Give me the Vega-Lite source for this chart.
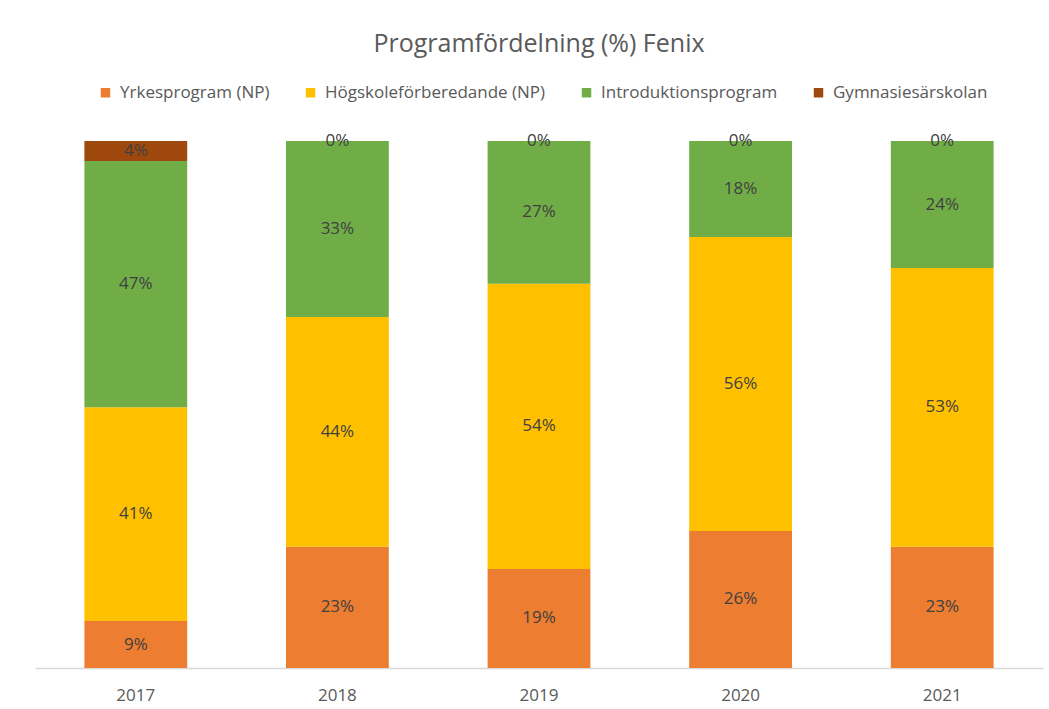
{
  "$schema": "https://vega.github.io/schema/vega-lite/v6.json",
  "width": 1008,
  "height": 527,
  "autosize": {"type": "none"},
  "padding": {"left": 35, "top": 141, "right": 6, "bottom": 41},
  "background": "white",
  "config": {"view": {"stroke": null}, "font": "Open Sans"},
  "title": {
    "text": "Programfördelning (%) Fenix",
    "fontSize": 25,
    "fontWeight": "normal",
    "color": "#595959",
    "anchor": "middle",
    "offset": 27,
    "font": "Open Sans"
  },
  "data": {
    "values": [
      {"year": "2017", "program": "Yrkesprogram (NP)", "k": 1, "v": 0.089},
      {"year": "2017", "program": "Högskoleförberedande (NP)", "k": 2, "v": 0.406},
      {"year": "2017", "program": "Introduktionsprogram", "k": 3, "v": 0.467},
      {"year": "2017", "program": "Gymnasiesärskolan", "k": 4, "v": 0.038},
      {"year": "2018", "program": "Yrkesprogram (NP)", "k": 1, "v": 0.23},
      {"year": "2018", "program": "Högskoleförberedande (NP)", "k": 2, "v": 0.436},
      {"year": "2018", "program": "Introduktionsprogram", "k": 3, "v": 0.334},
      {"year": "2018", "program": "Gymnasiesärskolan", "k": 4, "v": 0},
      {"year": "2019", "program": "Yrkesprogram (NP)", "k": 1, "v": 0.188},
      {"year": "2019", "program": "Högskoleförberedande (NP)", "k": 2, "v": 0.541},
      {"year": "2019", "program": "Introduktionsprogram", "k": 3, "v": 0.271},
      {"year": "2019", "program": "Gymnasiesärskolan", "k": 4, "v": 0},
      {"year": "2020", "program": "Yrkesprogram (NP)", "k": 1, "v": 0.26},
      {"year": "2020", "program": "Högskoleförberedande (NP)", "k": 2, "v": 0.558},
      {"year": "2020", "program": "Introduktionsprogram", "k": 3, "v": 0.182},
      {"year": "2020", "program": "Gymnasiesärskolan", "k": 4, "v": 0},
      {"year": "2021", "program": "Yrkesprogram (NP)", "k": 1, "v": 0.23},
      {"year": "2021", "program": "Högskoleförberedande (NP)", "k": 2, "v": 0.529},
      {"year": "2021", "program": "Introduktionsprogram", "k": 3, "v": 0.241},
      {"year": "2021", "program": "Gymnasiesärskolan", "k": 4, "v": 0}
    ]
  },
  "transform": [
    {"stack": "v", "groupby": ["year"], "sort": [{"field": "k", "order": "ascending"}], "as": ["y0", "y1"], "offset": "normalize"},
    {"calculate": "(datum.y0 + datum.y1) / 2", "as": "ymid"}
  ],
  "encoding": {
    "x": {
      "field": "year",
      "type": "nominal",
      "title": null,
      "scale": {"paddingInner": 0.49, "paddingOuter": 0.245},
      "axis": {
        "labelAngle": 0,
        "labelFontSize": 17,
        "labelColor": "#595959",
        "labelPadding": 19,
        "ticks": false,
        "domainColor": "#D9D9D9",
        "domainWidth": 1.5,
        "grid": false
      }
    }
  },
  "layer": [
    {
      "mark": {"type": "bar"},
      "encoding": {
        "y": {"field": "y0", "type": "quantitative", "scale": {"domain": [0, 1]}, "axis": null},
        "y2": {"field": "y1"},
        "color": {
          "field": "program",
          "type": "nominal",
          "scale": {
            "domain": ["Yrkesprogram (NP)", "Högskoleförberedande (NP)", "Introduktionsprogram", "Gymnasiesärskolan"],
            "range": ["#ED7D31", "#FFC000", "#70AD47", "#9E480E"]
          },
          "legend": {
            "title": null,
            "orient": "none",
            "direction": "horizontal",
            "legendX": 62,
            "legendY": -57,
            "symbolType": "square",
            "symbolSize": 90,
            "labelFontSize": 17,
            "labelLimit": 400,
            "labelColor": "#595959",
            "columnPadding": 32,
            "labelOffset": 6
          }
        }
      }
    },
    {
      "mark": {"type": "text", "fontSize": 17, "color": "#404040", "baseline": "middle"},
      "encoding": {
        "y": {"field": "ymid", "type": "quantitative", "scale": {"domain": [0, 1]}},
        "text": {"field": "v", "type": "quantitative", "format": ".0%"}
      }
    }
  ]
}
